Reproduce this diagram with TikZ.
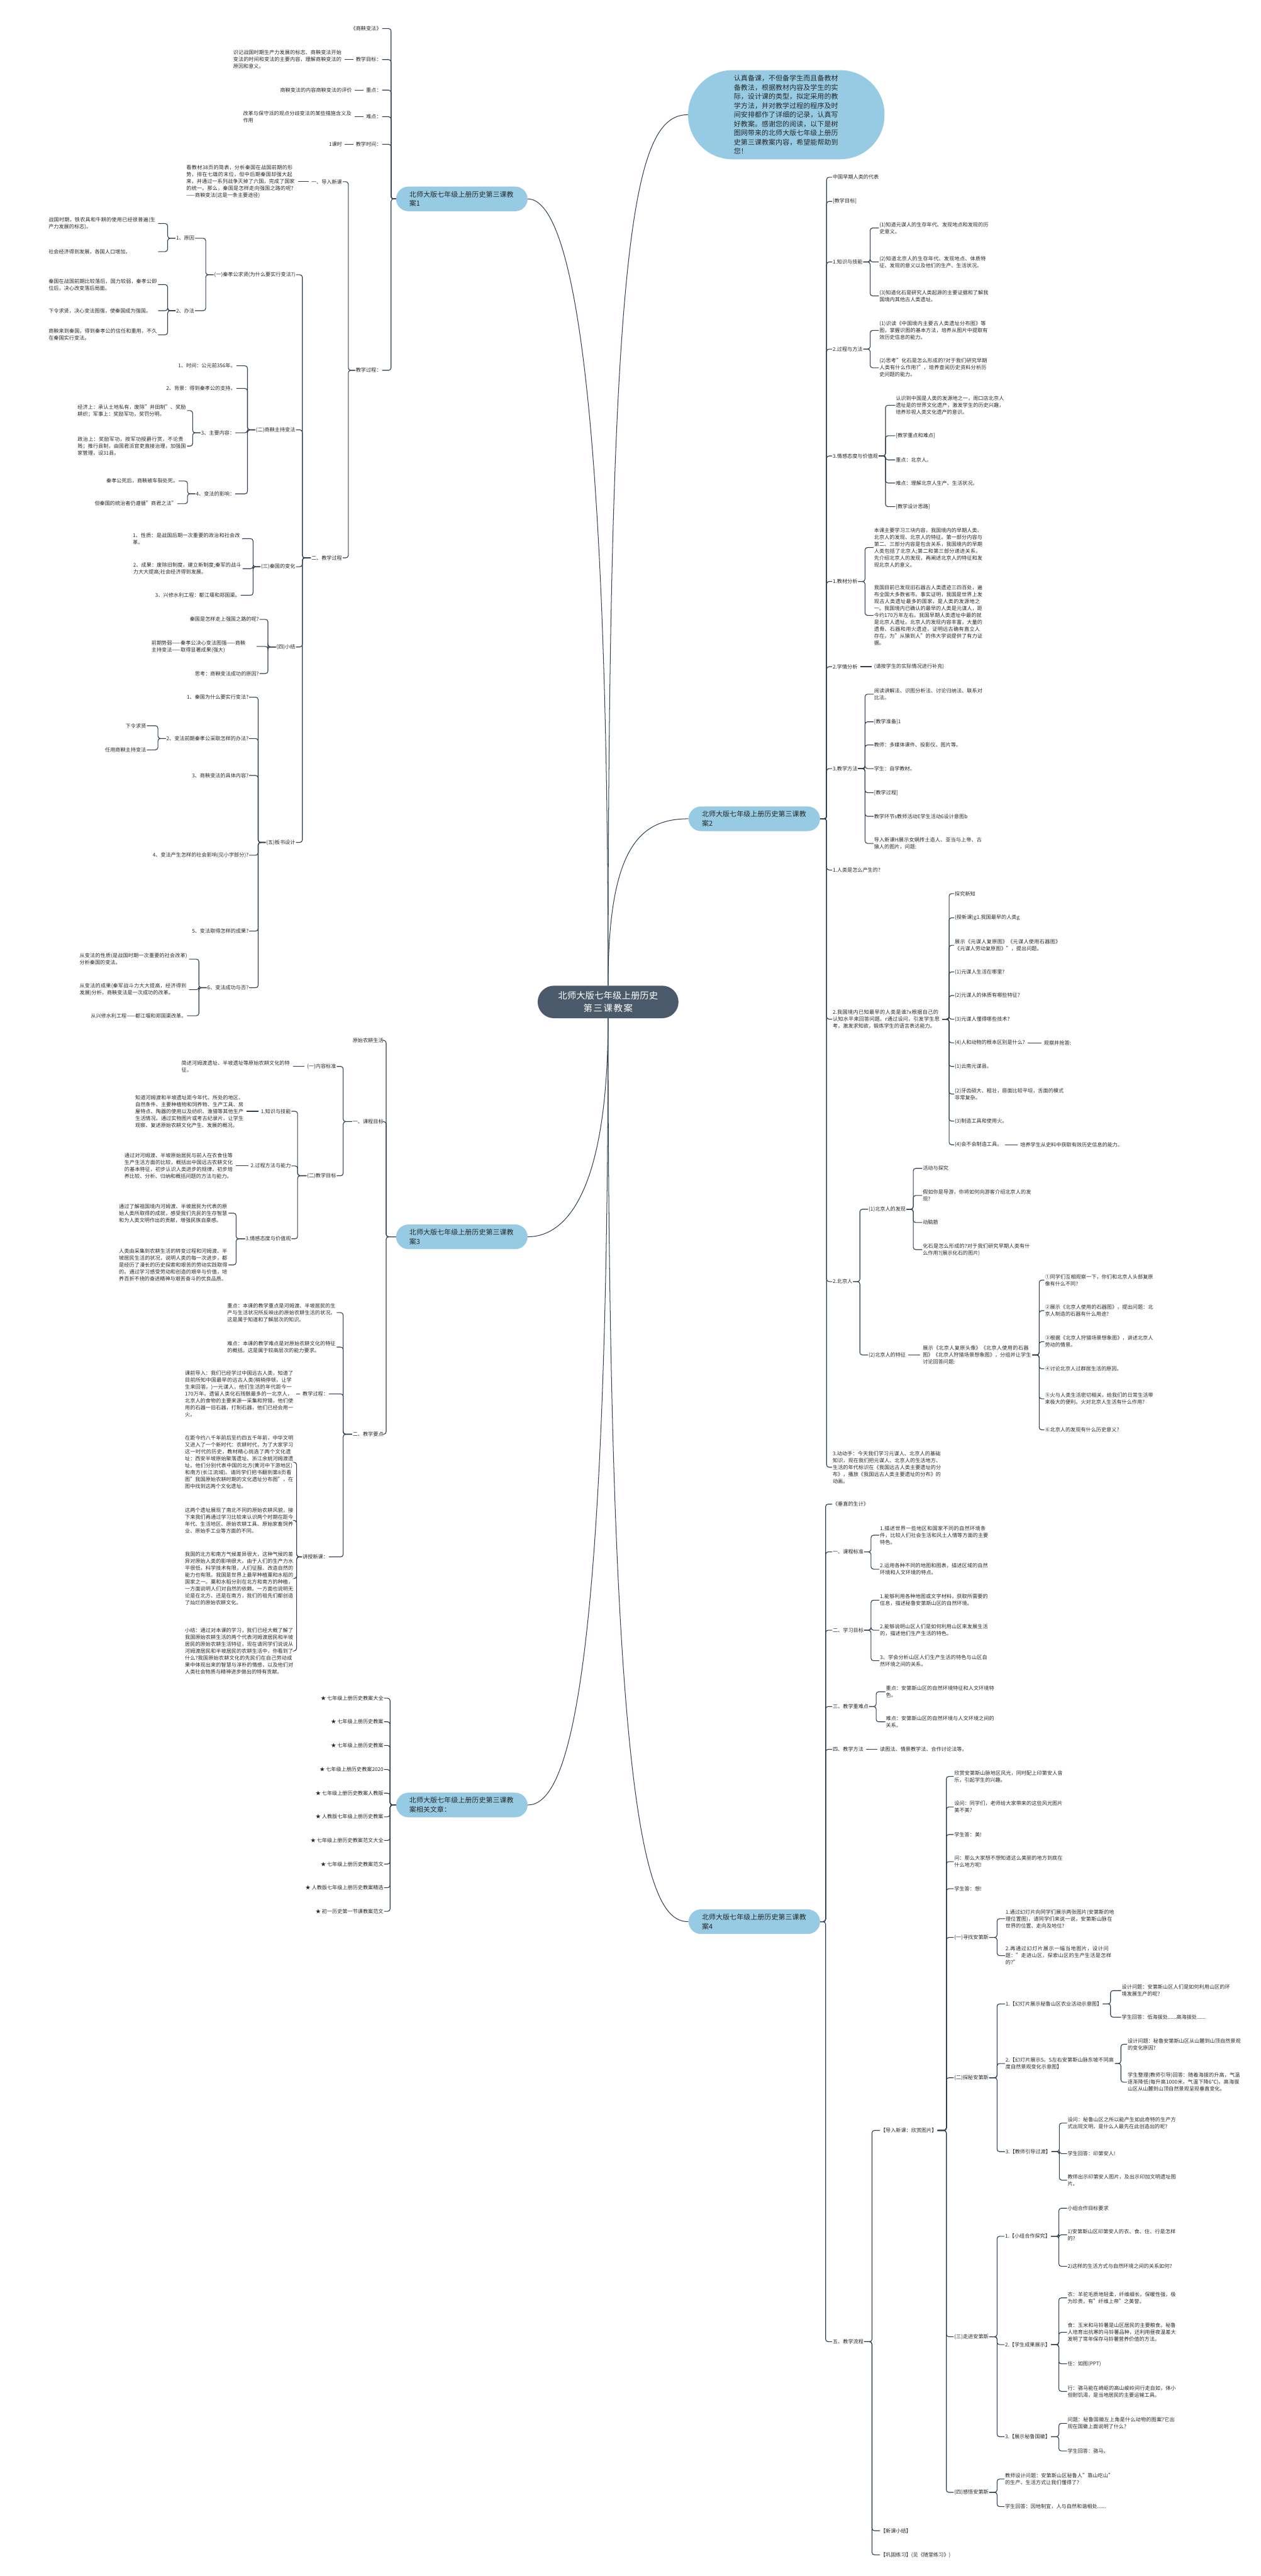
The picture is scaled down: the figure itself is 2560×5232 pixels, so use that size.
\documentclass[tikz,border=0pt]{standalone}
\usepackage{fontspec}
\setmainfont{Noto Sans CJK SC}
\XeTeXlinebreaklocale "zh"
\XeTeXlinebreakskip=0pt plus 1pt
\newlength\pu
\setlength\pu{0.25mm}
\newcommand\fs{\fontsize{7.4pt}{10pt}\selectfont}
\newcommand\fb{\fontsize{10pt}{13.5pt}\selectfont}
\newcommand\fbb{\fontsize{10pt}{13.2pt}\selectfont}
\newcommand\fr{\fontsize{13.1pt}{18.5pt}\selectfont}
\definecolor{lin}{RGB}{45,62,80}
\definecolor{rootc}{RGB}{74,90,106}
\definecolor{bl}{RGB}{150,203,227}
\definecolor{txt}{RGB}{40,40,40}
\newcommand\brL[3][14]{\foreach \kid in {#3}{\draw[conn] (#2.west) -- ++(-#1,0) |- (\kid.east);}}
\newcommand\brR[3][14]{\foreach \kid in {#3}{\draw[conn] (#2.east) -- ++(#1,0) |- (\kid.west);}}
\newcommand\lkL[2]{\draw[conn,shorten <=4\pu,shorten >=4\pu] (#1.west) -- (#2.east);}
\newcommand\lkR[2]{\draw[conn,shorten <=4\pu,shorten >=4\pu] (#1.east) -- (#2.west);}
\tikzset{
  tx/.style={font=\fs, text=txt, inner xsep=1\pu, inner ysep=1\pu, align=left},
  lt/.style={tx, anchor=east},
  rt/.style={tx, anchor=west},
  ww/.style={text width=#1\pu},
  ww/.default=221,
  conn/.style={draw=lin, line width=1.4\pu, rounded corners=5\pu},
  conn0/.style={draw=lin, line width=1.3\pu},
  bnode/.style={fill=bl, text=txt, font=\fb, text width=213\pu, inner xsep=27\pu, inner ysep=0pt, minimum height=50\pu, rounded corners=25\pu, align=left},
  rootn/.style={fill=rootc, text=white, font=\fr, text width=206\pu, inner xsep=40\pu, inner ysep=0pt, minimum height=66\pu, rounded corners=33\pu, align=center},
  bub/.style={fill=bl, text=txt, font=\fbb, text width=213\pu, inner xsep=93\pu, inner ysep=0pt, minimum height=181\pu, rounded corners=90\pu, align=left},
}
\begin{document}
\begin{tikzpicture}[x=0.25mm,y=-0.25mm]
\fill[white] (0,0) rectangle (2560,5232);
\useasboundingbox (0,0) rectangle (2560,5232);

% ---------- root, bubble, branch nodes ----------
\node[rootn] (root) at (1235,2035) {北师大版七年级上册历史\\第三课教案};
\node[bub] (bub) at (1597,233) {认真备课，不但备学生而且备教材备教法，根据教材内容及学生的实际，设计课的类型，拟定采用的教学方法，并对教学过程的程序及时间安排都作了详细的记录，认真写好教案。感谢您的阅读，以下是树图网带来的北师大版七年级上册历史第三课教案内容，希望能帮助到您！};
\node[bnode] (n1) at (938,404) {北师大版七年级上册历史第三课教案1};
\node[bnode] (n2) at (1532,1663) {北师大版七年级上册历史第三课教案2};
\node[bnode] (n3) at (938,2512) {北师大版七年级上册历史第三课教案3};
\node[bnode] (n4) at (938,3666) {北师大版七年级上册历史第三课教案相关文章：};
\node[bnode] (n5) at (1532,3903) {北师大版七年级上册历史第三课教案4};

\draw[conn0] (root.north) .. controls (1235,700) and (1150,404) .. (n1.east);
\draw[conn0] (root.north) .. controls (1235,450) and (1290,233) .. (bub.west);
\draw[conn0] (root.north) .. controls (1235,1720) and (1300,1663) .. (n2.west);
\draw[conn0] (root.south) .. controls (1235,2420) and (1150,2512) .. (n3.east);
\draw[conn0] (root.south) .. controls (1235,3450) and (1150,3666) .. (n4.east);
\draw[conn0] (root.south) .. controls (1235,3750) and (1320,3903) .. (n5.west);

% ---------- branch 1 ----------
\node[lt] (a1) at (776,58) {《商鞅变法》};
\node[lt] (a2) at (776,121) {教学目标：};
\node[lt] (a3) at (776,183) {重点：};
\node[lt] (a4) at (776,237) {难点：};
\node[lt] (a5) at (776,293) {教学时间：};
\node[lt] (a6) at (776,752) {教学过程：};
\brL[10]{n1}{a1,a2,a3,a4,a5,a6}
\node[lt,ww] (a2c) at (696,121) {识记战国时期生产力发展的标志、商鞅变法开始变法的时间和变法的主要内容，理解商鞅变法的原因和意义。};
\node[lt] (a3c) at (716,183) {商鞅变法的内容商鞅变法的评价};
\node[lt,ww] (a4c) at (716,237) {改革与保守派的观点分歧变法的某些措施含义及作用};
\node[lt] (a5c) at (696,293) {1课时};
\lkL{a2}{a2c} \lkL{a3}{a3c} \lkL{a4}{a4c} \lkL{a5}{a5c}

\node[lt] (b1) at (696,369) {一、导入新课};
\node[lt] (b2) at (696,1133) {二、教学过程};
\brL{a6}{b1,b2}
\node[lt,ww] (b1c) at (601,369) {看教材38页的简表，分析秦国在战国前期的形势，排在七雄的末位，但中后期秦国却强大起来，并通过一系列战争灭掉了六国，完成了国家的统一。那么，秦国是怎样走向强国之路的呢?——商鞅变法(这是一条主要途径)};
\lkL{b1}{b1c}

\node[lt] (c1) at (601,558) {(一)秦孝公求贤(为什么要实行变法?)};
\node[lt] (c2) at (601,873) {(二)商鞅主持变法};
\node[lt] (c3) at (601,1151) {(三)秦国的变化};
\node[lt] (c4) at (601,1314) {(四)小结};
\node[lt] (c5) at (601,1711) {(五)板书设计};
\brL[17]{b2}{c1,c2,c3,c4,c5}

\node[lt] (d1) at (396,484) {1、原因};
\node[lt] (d2) at (396,631) {2、办法};
\brL[16]{c1}{d1,d2}
\node[lt,ww] (e1) at (321,454) {战国时期，铁农具和牛耕的使用已经很普遍(生产力发展的标志)。};
\node[lt,ww] (e2) at (321,511) {社会经济得到发展，各国人口增加，};
\brL[16]{d1}{e1,e2}
\node[lt,ww] (e3) at (321,578) {秦国在战国前期比较落后，国力较弱，秦孝公即位后，决心改变落后局面。};
\node[lt,ww] (e4) at (321,631) {下令求贤，决心变法图强，使秦国成为强国。};
\node[lt,ww] (e5) at (321,680) {商鞅来到秦国，得到秦孝公的信任和重用，不久在秦国实行变法。};
\brL[16]{d2}{e3,e4,e5}

\node[lt] (d3) at (480,743) {1、时间：公元前356年。};
\node[lt] (d4) at (480,789) {2、背景：得到秦孝公的支持。};
\node[lt] (d5) at (478,879) {3、主要内容：};
\node[lt] (d6) at (478,1003) {4、变法的影响：};
\brL[16]{c2}{d3,d4,d5,d6}
\node[lt,ww] (e6) at (380,834) {经济上：承认土地私有，废除"井田制"、奖励耕织；军事上：奖励军功，奖罚分明。};
\node[lt,ww] (e7) at (380,906) {政治上：奖励军功，按军功授爵行赏，不论贵贱；推行县制，由国君派官吏直接治理，加强国家管理，设31县。};
\brL[16]{d5}{e6,e7}
\node[lt] (e8) at (363,977) {秦孝公死后，商鞅被车裂处死。};
\node[lt] (e9) at (360,1023) {但秦国的统治者仍遵循"商君之法"};
\brL[16]{d6}{e8,e9}

\node[lt,ww] (d7) at (492,1094) {1、性质：是战国后期一次重要的政治和社会改革。};
\node[lt,ww] (d8) at (493,1155) {2、成果：废除旧制度，建立新制度;秦军的战斗力大大提高;社会经济得到发展。};
\node[lt] (d9) at (489,1209) {3、兴修水利工程：都江堰和郑国渠。};
\brL[15]{c3}{d7,d8,d9}

\node[lt] (d10) at (527,1258) {秦国是怎样走上强国之路的呢?};
\node[lt,ww=212] (d11) at (521,1313) {前期势弱——秦孝公决心变法图强——商鞅\\主持变法——取得显著成果(强大)};
\node[lt] (d12) at (527,1368) {思考：商鞅变法成功的原因?};
\brL[16]{c4}{d10,d11,d12}

\node[lt] (d13) at (506,1416) {1、秦国为什么要实行变法?};
\node[lt] (d14) at (506,1500) {2、变法前期秦孝公采取怎样的办法?};
\node[lt] (d15) at (506,1575) {3、商鞅变法的具体内容?};
\node[lt] (d16) at (506,1737) {4、变法产生怎样的社会影响(见小字部分)?};
\node[lt] (d17) at (506,1891) {5、变法取得怎样的成果?};
\node[lt] (d18) at (506,2006) {6、变法成功与否?};
\brL[15]{c5}{d13,d14,d15,d16,d17,d18}
\node[lt] (e10) at (298,1474) {下令求贤};
\node[lt] (e11) at (298,1523) {任用商鞅主持变法};
\brL[16]{d14}{e10,e11}
\node[lt,ww] (e12) at (384,1948) {从变法的性质(是战国时期一次重要的社会改革)分析秦国的变法。};
\node[lt,ww] (e13) at (384,2010) {从变法的成果(秦军战斗力大大提高，经济得到发展)分析，商鞅变法是一次成功的改革。};
\node[lt] (e14) at (380,2063) {从兴修水利工程——都江堰和郑国渠改革。};
\brL[16]{d18}{e12,e13,e14}

% ---------- branch 3 ----------
\node[lt] (f1) at (780,2113) {原始农耕生活};
\node[lt] (f2) at (780,2278) {一、课程目标};
\node[lt] (f3) at (780,2913) {二、教学要点};
\brL[20]{n3}{f1,f2,f3}
\node[lt] (g1) at (684,2166) {(一)内容标准};
\node[lt] (g2) at (684,2388) {(二)教学目标};
\brL[18]{f2}{g1,g2}
\node[lt,ww] (g1c) at (591,2166) {简述河姆渡遗址、半坡遗址等原始农耕文化的特征。};
\lkL{g1}{g1c}
\node[lt] (h1) at (592,2257) {1.知识与技能};
\node[lt] (h2) at (592,2368) {2.过程方法与能力};
\node[lt] (h3) at (592,2516) {3.情感态度与价值观};
\brL[18]{g2}{h1,h2,h3}
\node[lt,ww] (h1c) at (497,2257) {知道河姆渡和半坡遗址距今年代、所处的地区、自然条件、主要种植物和饲养物、生产工具、房屋特点、陶器的使用以及纺织、渔猎等其他生产生活情况。通过实物图片或考古纪录片，让学生观察、复述原始农耕文化产生、发展的概况。};
\node[lt,ww] (h2c) at (475,2368) {通过对河姆渡、半坡原始居民与前人在衣食住等生产生活方面的比较，概括出中国远古农耕文化的基本特征，初步认识人类进步的规律，初步培养比较、分析、归纳和概括问题的方法与能力。};
\lkL{h1}{h1c} \lkL{h2}{h2c}
\node[lt,ww] (h3a) at (464,2464) {通过了解祖国境内河姆渡、半坡居民为代表的原始人类所取得的成就，感受我们先民的生存智慧和为人类文明作出的贡献，增强民族自豪感。};
\node[lt,ww] (h3b) at (464,2569) {人类由采集到农耕生活的转变过程和河姆渡、半坡居民生活的状况，说明人类的每一次进步，都是经历了漫长的历史探索和艰苦的劳动实践取得的。通过学习感受劳动和创造的艰辛与价值，培养百折不挠的奋进精神与艰苦奋斗的优良品质。};
\brL[18]{h3}{h3a,h3b}
\node[lt,ww] (g3) at (684,2666) {重点：本课的教学重点是河姆渡、半坡居民的生产与生活状况所反映出的原始农耕生活的状况。这是属于知道和了解层次的知识。};
\node[lt,ww] (g4) at (684,2736) {难点：本课的教学难点是对原始农耕文化的特征的概括。这是属于较高层次的能力要求。};
\node[lt] (g5) at (668,2831) {教学过程：};
\node[lt] (g6) at (668,3162) {讲授新课：};
\brL[18]{f3}{g3,g4,g5,g6}
\node[lt,ww] (g5c) at (598,2831) {课前导入：我们已经学过中国远古人类，知道了目前所知中国最早的远古人类(稍稍停顿，让学生来回答。)一元谋人，他们生活的年代距今一170万年。遗留人类化石残骸最多的一北京人，北京人的食物的主要来源一采集和狩猎，他们使用的石器一旧石器，打制石器，他们已经会用一火。};
\lkL{g5}{g5c}
\node[lt,ww] (g6a) at (598,2970) {在距今约八千年前后至约四五千年前，中华文明又进入了一个新时代：农耕时代，为了大家学习这一时代的历史，教材精心挑选了两个文化遗址：西安半坡原始聚落遗址、浙江余姚河姆渡遗址。他们分别代表中国的北方(黄河中下游地区)和南方(长江流域)。请同学们把书翻到第8页看图"我国原始农耕时期的文化遗址分布图"，在图中找到这两个文化遗址。};
\node[lt,ww] (g6b) at (598,3088) {这两个遗址展现了南北不同的原始农耕风貌，接下来我们再通过学习比较来认识两个时期在距今年代、生活地区、原始农耕工具、原始家畜饲养业、原始手工业等方面的不同。};
\node[lt,ww] (g6c) at (598,3206) {我国的北方和南方气候差异很大，这种气候的差异对原始人类的影响很大。由于人们的生产力水平很低，科学技术有限，人们征服、改造自然的能力也有限。我国是世界上最早种植粟和水稻的国家之一。粟和水稻分别在北方和南方的种植，一方面说明人们对自然的依赖。一方面也说明无论是在北方、还是在南方，我们的祖先们都创造了灿烂的原始农耕文化。};
\node[lt,ww] (g6d) at (598,3353) {小结：通过对本课的学习，我们已经大概了解了我国原始农耕生活的两个代表河姆渡居民和半坡居民的原始农耕生活特征，现在请同学们说说从河姆渡居民和半坡居民的农耕生活中，你看到了什么?我国原始农耕文化的先民们在自己劳动成果中体现出来的智慧与淳朴的情感，以及他们对人类社会物质与精神进步做出的特有贡献。};
\brL[11]{g6}{g6a,g6b,g6c,g6d}

% ---------- branch 4 ----------
\node[lt] (j1) at (780,3449) {★ 七年级上册历史教案大全};
\node[lt] (j2) at (780,3497) {★ 七年级上册历史教案};
\node[lt] (j3) at (780,3545) {★ 七年级上册历史教案};
\node[lt] (j4) at (780,3594) {★ 七年级上册历史教案2020};
\node[lt] (j5) at (780,3642) {★ 七年级上册历史教案人教版};
\node[lt] (j6) at (780,3690) {★ 人教版七年级上册历史教案};
\node[lt] (j7) at (780,3738) {★ 七年级上册历史教案范文大全};
\node[lt] (j8) at (780,3786) {★ 七年级上册历史教案范文};
\node[lt] (j9) at (780,3834) {★ 人教版七年级上册历史教案精选};
\node[lt] (j10) at (780,3882) {★ 初一历史第一节课教案范文};
\brL[12]{n4}{j1,j2,j3,j4,j5,j6,j7,j8,j9,j10}

% ---------- branch 2 ----------
\node[rt] (k1) at (1690,360) {中国早期人类的代表};
\node[rt] (k2) at (1690,409) {[教学目标]};
\node[rt] (k3) at (1690,532) {1.知识与技能};
\node[rt] (k4) at (1690,709) {2.过程与方法};
\node[rt] (k5) at (1690,926) {3.情感态度与价值观};
\node[rt] (k6) at (1690,1181) {1.教材分析};
\node[rt] (k7) at (1690,1354) {2.学情分析};
\node[rt] (k8) at (1690,1561) {3.教学方法};
\node[rt] (k9) at (1690,1767) {1.人类是怎么产生的?};
\node[rt,ww] (k10) at (1690,2070) {2.我国境内已知最早的人类是谁?x根据自己的认知水平来回答问题。r通过设问，引发学生思考，激发求知欲，锻炼学生的语言表达能力。};
\node[rt] (k11) at (1690,2603) {2.北京人};
\node[rt,ww] (k12) at (1690,2980) {3.动动手：今天我们学习元谋人、北京人的基础知识，现在我们把元谋人、北京人的生活地方、生活的年代标识在《我国远古人类主要遗址的分布》，播放《我国远古人类主要遗址的分布》的动画。};
\brR[13]{n2}{k1,k2,k3,k4,k5,k6,k7,k8,k9,k10,k11,k12}

\node[rt,ww] (k3a) at (1785,463) {(1)知道元谋人的生存年代、发现地点和发现的历史意义。};
\node[rt,ww] (k3b) at (1785,532) {(2)知道北京人的生存年代、发现地点、体质特征、发现的意义以及他们的生产、生活状况。};
\node[rt,ww] (k3c) at (1785,601) {(3)知道化石是研究人类起源的主要证据和了解我国境内其他古人类遗址。};
\brR{k3}{k3a,k3b,k3c}
\node[rt,ww] (k4a) at (1785,671) {(1)识读《中国境内主要古人类遗址分布图》等图，掌握识图的基本方法，培养从图片中提取有效历史信息的能力。};
\node[rt,ww] (k4b) at (1785,747) {(2)思考"化石是怎么形成的?对于我们研究早期人类有什么作用?"，培养查阅历史资料分析历史问题的能力。};
\brR{k4}{k4a,k4b}
\node[rt,ww] (k5a) at (1818,823) {认识到中国是人类的发源地之一，周口店北京人遗址是的世界文化遗产，激发学生的历史兴趣，培养珍视人类文化遗产的意识。};
\node[rt] (k5b) at (1818,885) {[教学重点和难点]};
\node[rt] (k5c) at (1818,934) {重点：北京人。};
\node[rt] (k5d) at (1818,981) {难点：理解北京人生产、生活状况。};
\node[rt] (k5e) at (1818,1029) {[教学设计思路]};
\brR{k5}{k5a,k5b,k5c,k5d,k5e}
\node[rt,ww] (k6a) at (1774,1112) {本课主要学习三块内容，我国境内的早期人类、北京人的发现、北京人的特征。第一部分内容与第二、三部分内容是包含关系，我国境内的早期人类包括了北京人;第二和第三部分递进关系，先介绍北京人的发现，再阐述北京人的特征和发现北京人的意义。};
\node[rt,ww] (k6b) at (1774,1250) {我国目前已发现旧石器古人类遗迹三四百处，遍布全国大多数省市。事实证明，我国是世界上发现古人类遗址最多的国家，是人类的发源地之一。我国境内已确认的最早的人类是元谋人，距今约170万年左右。我国早期人类遗址中最的就是北京人遗址。北京人的发现内容丰富，大量的遗骨、石器和用火遗迹，证明远古确有直立人存在，为"从猿到人"的伟大学说提供了有力证据。};
\brR{k6}{k6a,k6b}
\node[rt] (k7a) at (1774,1354) {(请按学生的实际情况进行补充)};
\lkR{k7}{k7a}
\node[rt,ww] (k8a) at (1774,1410) {阅读讲解法、识图分析法、讨论归纳法、联系对比法。};
\node[rt] (k8b) at (1774,1466) {[教学准备]1};
\node[rt] (k8c) at (1774,1513) {教师：多媒体课件、投影仪、图片等。};
\node[rt] (k8d) at (1774,1561) {学生：自学教材。};
\node[rt] (k8e) at (1774,1610) {[教学过程]};
\node[rt] (k8f) at (1774,1658) {教学环节s教师活动E学生活动6设计意图b};
\node[rt,ww] (k8g) at (1774,1713) {导入新课H展示女娲抟土造人、亚当与上帝、古猿人的图片，问题:};
\brR{k8}{k8a,k8b,k8c,k8d,k8e,k8f,k8g}

\node[rt] (ka) at (1938,1815) {探究新知};
\node[rt] (kb) at (1938,1864) {(授新课)g1.我国最早的人类g};
\node[rt,ww] (kc) at (1938,1920) {展示《元谋人复原图》《元谋人使用石器图》《元谋人劳动复原图》"，提出问题。};
\node[rt] (kd) at (1938,1974) {(1)元谋人生活在哪里?};
\node[rt] (ke) at (1938,2022) {(2)元谋人的体质有哪些特征?};
\node[rt] (kf) at (1938,2070) {(3)元谋人懂得哪些技术?};
\node[rt] (kg) at (1938,2118) {(4)人和动物的根本区别是什么?};
\node[rt] (kh) at (1938,2166) {(1)云南元谋县。};
\node[rt,ww] (ki) at (1938,2222) {(2)牙齿硕大、粗壮，唇面比较平坦，舌面的模式非常复杂。};
\node[rt] (kj) at (1938,2277) {(3)制造工具和使用火。};
\node[rt] (kk) at (1938,2325) {(4)会不会制造工具。};
\brR{k10}{ka,kb,kc,kd,ke,kf,kg,kh,ki,kj,kk}
\node[rt] (kg1) at (2119,2118) {观察并抢答:};
\lkR{kg}{kg1}
\node[rt] (kk1) at (2071,2325) {培养学生从史料中获取有效历史信息的能力。};
\lkR{kk}{kk1}

\node[rt] (k11a) at (1763,2456) {(1)北京人的发现};
\node[rt] (k11b) at (1763,2752) {(2)北京人的特征};
\brR{k11}{k11a,k11b}
\node[rt] (ma) at (1873,2373) {活动与探究};
\node[rt,ww] (mb) at (1873,2428) {假如你是导游，你将如何向游客介绍北京人的发现?};
\node[rt] (mc) at (1873,2483) {动脑筋};
\node[rt,ww] (md) at (1873,2538) {化石是怎么形成的?对于我们研究早期人类有什么作用?(展示化石的图片)};
\brR{k11a}{ma,mb,mc,md}
\node[rt,ww] (me) at (1873,2752) {展示《北京人复原头像》《北京人使用的石器图》《北京人狩猎场景想象图》，分组并让学生讨论回答问题:};
\lkR{k11b}{me}
\node[rt,ww] (mf1) at (2121,2600) {①同学们互相观察一下，你们和北京人头部复原像有什么不同?};
\node[rt,ww] (mf2) at (2121,2662) {②展示《北京人使用的石器图》，提出问题：北京人制造的石器有什么用途?};
\node[rt,ww] (mf3) at (2121,2725) {③根据《北京人狩猎场景想象图》，讲述北京人劳动的情景。};
\node[rt] (mf4) at (2121,2780) {④讨论北京人过群居生活的原因。};
\node[rt,ww] (mf5) at (2121,2841) {⑤火与人类生活密切相关，给我们的日常生活带来极大的便利。火对北京人生活有什么作用?};
\node[rt] (mf6) at (2121,2904) {⑥北京人的发现有什么历史意义?};
\brR{me}{mf1,mf2,mf3,mf4,mf5,mf6}

% ---------- branch 5 ----------
\node[rt] (m1) at (1690,3055) {《垂直的生计》};
\node[rt] (m2) at (1690,3152) {一、课程标准};
\node[rt] (m3) at (1690,3311) {二、学习目标};
\node[rt] (m4) at (1690,3466) {三、教学重难点};
\node[rt] (m5) at (1690,3553) {四、教学方法};
\node[rt] (m6) at (1690,4756) {五、教学流程};
\brR[11]{n5}{m1,m2,m3,m4,m5,m6}
\node[rt,ww] (m2a) at (1786,3118) {1.描述世界一些地区和国家不同的自然环境条件，比较人们社会生活和风土人情等方面的主要特色。};
\node[rt,ww] (m2b) at (1786,3187) {2.运用各种不同的地图和图表，描述区域的自然环境和人文环境的特点。};
\brR{m2}{m2a,m2b}
\node[rt,ww] (m3a) at (1786,3250) {1.能够利用各种地图或文字材料，获取所需要的信息，描述秘鲁安第斯山区的自然环境。};
\node[rt,ww] (m3b) at (1786,3311) {2.能够说明山区人们是如何利用山区来发展生活的，描述他们生产生活的特色。};
\node[rt,ww] (m3c) at (1786,3373) {3、学会分析山区人们生产生活的特色与山区自然环境之间的关系。};
\brR{m3}{m3a,m3b,m3c}
\node[rt,ww] (m4a) at (1798,3436) {重点：安第斯山区的自然环境特征和人文环境特色。};
\node[rt,ww] (m4b) at (1798,3497) {难点：安第斯山区的自然环境与人文环境之间的关系。};
\brR{m4}{m4a,m4b}
\node[rt] (m5a) at (1786,3553) {读图法、情景教学法、合作讨论法等。};
\lkR{m5}{m5a}

\node[rt] (p) at (1787,4327) {【导入新课：欣赏图片】};
\node[rt] (pz1) at (1787,5140) {【新课小结】};
\node[rt] (pz2) at (1787,5189) {【巩固练习】(见《随堂练习》)};
\brR[16]{m6}{p,pz1,pz2}
\node[rt,ww] (p1) at (1937,3608) {欣赏安第斯山脉地区风光，同时配上印第安人音乐，引起学生的兴趣。};
\node[rt,ww] (p2) at (1937,3670) {设问：同学们，老师给大家带来的这些风光图片美不美?};
\node[rt] (p3) at (1937,3726) {学生答：美!};
\node[rt,ww] (p4) at (1937,3781) {问：那么大家想不想知道这么美丽的地方到底在什么地方呢!};
\node[rt] (p5) at (1937,3836) {学生答：想!};
\node[rt] (s1) at (1937,3935) {(一)寻找安第斯};
\node[rt] (s2) at (1937,4220) {(二)探秘安第斯};
\node[rt] (s3) at (1937,4746) {(三)走进安第斯};
\node[rt] (s4) at (1937,5062) {(四)感悟安第斯};
\brR[18]{p}{p1,p2,p3,p4,p5,s1,s2,s3,s4}

\node[rt,ww] (s1a) at (2041,3897) {1.通过幻灯片向同学们展示两张图片(安第斯的地理位置图)，请同学们来说一说，安第斯山脉在世界的位置、走向及地位?};
\node[rt,ww] (s1b) at (2041,3972) {2.再通过幻灯片展示一幅当地图片，设计问题："走进山区，探索山区的生产生活是怎样的?"};
\brR[16]{s1}{s1a,s1b}

\node[rt] (q1) at (2041,4070) {1.【幻灯片展示秘鲁山区农业活动示意图】};
\node[rt,ww] (q2) at (2041,4191) {2.【幻灯片展示5。S左右安第斯山脉东坡不同高度自然景观变化示意图】};
\node[rt] (q3) at (2041,4370) {3.【教师引导过渡】};
\brR[16]{s2}{q1,q2,q3}
\node[rt,ww] (q1a) at (2277,4043) {设计问题：安第斯山区人们是如何利用山区的环境发展生产的呢?};
\node[rt] (q1b) at (2277,4097) {学生回答：低海拔处......高海拔处......};
\brR[16]{q1}{q1a,q1b}
\node[rt,ww=230] (q2a) at (2289,4152) {设计问题：秘鲁安第斯山区从山麓到山顶自然景观的变化原因?};
\node[rt,ww=230] (q2b) at (2289,4229) {学生整理(教师引导)回答：随着海拔的升高，气温逐渐降低(每升高1000米，气温下降6℃)。高海拔山区从山麓到山顶自然景观呈现垂直变化。};
\brR[12]{q2}{q2a,q2b}
\node[rt,ww] (q3a) at (2167,4312) {设问：秘鲁山区之所以能产生如此奇特的生产方式出现文明，是什么人最先在此创造出的呢?};
\node[rt] (q3b) at (2167,4374) {学生回答：印第安人!};
\node[rt,ww] (q3c) at (2167,4428) {教师出示印第安人图片，及出示印加文明遗址图片。};
\brR[16]{q3}{q3a,q3b,q3c}

\node[rt] (r1) at (2040,4542) {1.【小组合作探究】};
\node[rt] (r2) at (2040,4762) {2.【学生成果展示】};
\node[rt] (r3) at (2040,4949) {3.【展示秘鲁国徽】};
\brR[16]{s3}{r1,r2,r3}
\node[rt] (r1a) at (2167,4485) {小组合作目标要求};
\node[rt,ww] (r1b) at (2167,4539) {1)安第斯山区印第安人的衣、食、住、行是怎样的?};
\node[rt,ww] (r1c) at (2167,4603) {2)这样的生活方式与自然环境之间的关系如何?};
\brR[16]{r1}{r1a,r1b,r1c}
\node[rt,ww] (r2a) at (2167,4667) {衣：羊驼毛质地轻柔，纤维细长，保暖性强，极为珍贵，有"纤维上帝"之美誉。};
\node[rt,ww] (r2b) at (2167,4737) {食：玉米和马铃薯是山区居民的主要粮食。秘鲁人培育出抗寒的马铃薯品种，还利用昼夜温差大发明了常年保存马铃薯营养价值的方法。};
\node[rt] (r2c) at (2167,4801) {住：如图(PPT)};
\node[rt,ww] (r2d) at (2167,4857) {行：骆马能在崎岖的高山峻岭间行走自如，体小但耐饥渴，是当地居民的主要运输工具。};
\brR[16]{r2}{r2a,r2b,r2c,r2d}
\node[rt,ww] (r3a) at (2167,4922) {问题：秘鲁国徽左上角是什么动物的图案?它出现在国徽上面说明了什么?};
\node[rt] (r3b) at (2167,4978) {学生回答：骆马。};
\brR[16]{r3}{r3a,r3b}
\node[rt,ww] (s4a) at (2040,5035) {教师设计问题：安第斯山区秘鲁人"靠山吃山"的生产、生活方式让我们懂得了?};
\node[rt] (s4b) at (2040,5091) {学生回答：因地制宜，人与自然和谐相处......};
\brR[16]{s4}{s4a,s4b}
\end{tikzpicture}
\end{document}
